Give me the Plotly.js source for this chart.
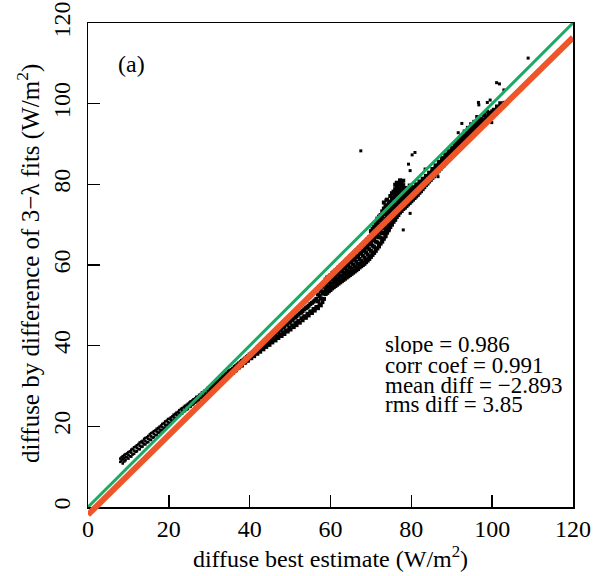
<!DOCTYPE html>
<html>
<head>
<meta charset="utf-8">
<script src="https://cdn.plot.ly/plotly-3.0.1.min.js"></script>
<style>html,body{margin:0;padding:0;background:#fff;}</style>
</head>
<body>
<div id="chart" style="width:599px;height:576px;"></div>
<script>
// ---- data ----
// rows: [x, y1, y2, ...]  (diffuse best estimate, diffuse by difference of 3-λ fits)
const lowBand = [
  [8.0, 11.2, 12.0], [8.3, 11.5, 12.3], [8.6, 10.8, 11.9, 12.6], [9.0, 11.3, 12.1, 12.9], [9.3, 11.6, 12.4, 13.1],
  [9.7, 12.3, 13.3], [10.0, 12.0, 12.9, 13.6], [10.4, 12.6, 13.8], [10.7, 12.5, 13.5, 14.2], [11.0, 13.0, 14.4],
  [11.4, 13.2, 14.0, 14.8], [11.8, 13.7, 15.0], [12.1, 13.8, 14.6, 15.3], [12.5, 14.4, 15.6], [12.8, 14.3, 15.2, 16.0],
  [13.2, 14.9, 16.2], [13.5, 15.0, 15.8, 16.4], [13.9, 15.6, 16.9], [14.2, 15.5, 16.3, 17.1], [14.6, 16.0, 17.3],
  [14.9, 16.1, 16.9, 17.6], [15.3, 16.7, 18.0], [15.6, 16.6, 17.5, 18.3], [16.0, 17.2, 18.5], [16.3, 17.3, 18.1, 18.8],
  [16.7, 17.8, 19.0], [17.0, 17.9, 18.7, 19.4], [17.4, 18.4, 19.6], [17.7, 18.5, 19.2, 19.9], [18.1, 19.0, 20.2],
  [18.4, 19.1, 19.8, 20.6], [18.8, 19.5, 20.8], [19.1, 19.7, 20.4, 21.2], [19.5, 20.2, 21.4], [19.8, 20.4, 21.0, 21.8],
  [20.2, 20.8, 21.9], [20.5, 20.9, 21.6, 22.2], [20.9, 21.3, 22.5], [21.2, 21.5, 22.2, 22.9], [21.6, 21.9, 23.1],
  [21.9, 22.1, 22.8, 23.4], [22.3, 22.5, 23.6], [22.6, 22.7, 23.3, 24.0], [23.0, 23.1, 24.3], [23.3, 23.2, 23.9, 24.5],
  [23.7, 23.7, 24.8], [24.0, 23.8, 24.4, 25.1], [24.4, 24.2, 25.3], [24.7, 24.3, 25.0, 25.6], [25.1, 24.8, 25.9],
  [25.4, 24.9, 25.5, 26.2], [25.8, 25.3, 26.4], [26.1, 25.5, 26.1, 26.7], [26.5, 25.9, 26.9], [26.8, 26.0, 26.6, 27.3],
  [27.2, 26.4, 27.4], [27.5, 26.6, 27.2, 27.8], [27.9, 27.0, 28.0], [28.2, 27.1, 27.7, 28.4], [28.6, 27.5, 28.5],
  [28.9, 27.7, 28.3, 28.9], [29.3, 28.0, 29.1], [29.6, 28.2, 28.8, 29.5]
];
const midBand = [
  [30.3, 28.9, 29.7], [30.7, 28.9, 29.9], [31.0, 29.4, 30.3], [31.4, 29.6, 30.5], [31.8, 30.1, 31.0],
  [32.1, 30.2, 31.2], [32.5, 30.7, 31.4], [32.9, 30.8, 31.8], [33.3, 31.3, 32.2], [33.6, 31.4, 32.4],
  [34.0, 32.0, 32.8], [34.4, 32.1, 33.1], [34.8, 32.6, 33.5], [35.1, 32.7, 33.7], [35.5, 33.2, 34.0],
  [35.9, 33.3, 34.3], [36.3, 33.8, 34.7], [36.6, 33.9, 34.9], [37.0, 34.5, 35.3], [37.4, 34.6, 35.6],
  [37.8, 35.1, 35.9], [38.1, 35.1, 36.2], [38.5, 35.7, 36.5], [38.9, 35.8, 36.8], [39.3, 36.3, 37.2],
  [39.6, 36.3, 37.4], [40.0, 36.9, 37.8], [40.4, 36.9, 38.0], [40.8, 37.5, 38.4], [41.1, 37.4, 38.6],
  [41.5, 38.1, 39.0], [41.9, 38.0, 39.2], [42.3, 38.7, 39.6], [42.6, 38.5, 39.8], [43.0, 39.3, 40.2],
  [43.4, 39.1, 40.4], [43.8, 39.9, 40.8], [44.1, 39.7, 41.0], [44.5, 40.4, 41.4], [44.9, 40.2, 41.6],
  [45.3, 41.1, 42.0], [45.6, 40.8, 42.2], [46.0, 41.6, 42.6], [46.4, 41.3, 42.9], [46.8, 42.2, 43.3],
  [47.1, 41.9, 43.5], [47.5, 42.8, 43.9], [47.9, 42.4, 44.2], [48.3, 43.3, 44.6], [48.6, 42.9, 44.8],
  [49.0, 43.8, 45.2], [49.4, 43.5, 45.4], [49.8, 44.4, 45.8], [50.1, 44.0, 46.0], [50.5, 45.0, 46.4],
  [50.9, 44.6, 46.7], [51.3, 45.6, 47.1], [51.6, 45.1, 47.3], [52.0, 46.1, 47.7], [52.4, 45.7, 48.0],
  [52.8, 46.8, 48.3], [53.1, 46.3, 48.6], [53.5, 47.3, 49.0], [53.9, 46.9, 49.3], [54.3, 47.9, 49.6],
  [54.6, 47.5, 49.9], [55.0, 48.5, 50.3], [55.4, 48.1, 50.6], [55.8, 49.1, 50.9], [56.1, 48.7, 51.2],
  [56.5, 49.6, 51.6], [56.9, 49.3, 51.0, 52.7], [57.3, 50.2, 52.3, 54.0], [57.6, 50.0, 51.7, 53.5],
  [58.0, 50.8, 52.9, 54.6], [58.4, 51.6, 53.4, 55.1]
];
const bulge = [
  [58.8, 52.8, 54.0, 55.3, 56.4], [59.2, 53.1, 53.6, 54.7, 55.8, 56.9], [59.6, 53.5, 54.6, 55.9, 57.1],
  [60.0, 53.8, 54.4, 55.4, 56.4, 57.5], [60.4, 54.2, 55.2, 56.5, 57.9], [60.8, 54.5, 55.0, 56.0, 57.0, 58.3],
  [61.2, 54.8, 55.9, 57.2, 58.6], [61.6, 55.1, 55.6, 56.7, 57.7, 59.0], [62.0, 55.4, 56.5, 57.9, 59.4],
  [62.4, 55.7, 56.2, 57.3, 58.4, 59.8], [62.8, 56.0, 57.1, 58.7, 60.1], [63.2, 56.3, 56.8, 58.0, 59.1, 60.5],
  [63.6, 56.6, 57.8, 59.4, 60.9], [64.0, 56.9, 57.5, 58.7, 59.8, 61.3], [64.4, 57.2, 58.4, 60.1, 61.6],
  [64.8, 57.5, 58.1, 59.4, 60.6, 62.1], [65.2, 57.8, 59.0, 60.9, 62.4], [65.6, 58.1, 58.7, 60.1, 61.3, 62.8],
  [66.0, 58.4, 59.7, 61.6, 63.2], [66.4, 58.7, 59.3, 60.8, 62.0, 63.6], [66.8, 59.0, 60.3, 62.3, 64.0],
  [67.2, 59.4, 60.0, 61.5, 62.8, 64.4], [67.6, 59.7, 61.0, 63.1, 64.8], [68.0, 60.0, 60.7, 62.3, 63.5, 65.2],
  [68.4, 60.3, 61.8, 63.9, 65.6], [68.8, 60.7, 61.4, 63.1, 64.3, 66.0], [69.2, 61.1, 62.6, 64.7, 66.4],
  [69.6, 61.5, 62.2, 63.9, 65.2, 66.9], [70.0, 62.0, 63.5, 65.6, 67.3, 68.4],
  [70.4, 62.5, 63.1, 64.8, 66.1, 67.8, 69.0], [70.8, 63.0, 64.5, 66.5, 68.2, 69.5],
  [71.2, 63.5, 64.1, 65.8, 67.0, 68.7, 70.1], [71.6, 64.1, 65.6, 67.4, 69.2, 70.6, 71.5],
  [72.0, 64.6, 65.2, 66.9, 68.0, 69.7, 71.1, 72.0], [72.4, 65.3, 66.8, 68.4, 70.1, 71.5, 72.4],
  [72.8, 65.8, 66.3, 67.9, 69.2, 70.6, 72.0, 73.3], [73.2, 66.5, 68.0, 69.5, 71.0, 72.6, 74.0, 75.5],
  [73.6, 67.1, 67.4, 68.8, 70.2, 71.5, 72.9, 74.6], [74.0, 68.0, 69.3, 70.6, 71.9, 73.4, 74.8, 76.2],
  [74.4, 68.6, 68.9, 70.0, 71.2, 72.4, 73.9, 75.3], [74.8, 69.4, 70.6, 71.8, 72.9, 74.3, 75.7, 77.1],
  [75.2, 70.0, 70.3, 71.3, 72.4, 73.5, 74.9, 76.4, 77.8], [75.6, 70.7, 71.8, 72.9, 73.9, 75.4, 76.8, 78.2],
  [76.0, 71.2, 71.5, 72.4, 73.5, 74.5, 76.0, 77.4, 78.8, 79.9], [76.4, 71.9, 72.9, 74.0, 75.0, 76.5, 78.0, 79.3, 80.4],
  [76.8, 72.4, 73.4, 74.5, 75.6, 77.1, 78.6, 79.9], [77.2, 73.0, 73.9, 75.0, 76.2, 77.7, 79.0, 80.3, 81.0],
  [77.6, 73.4, 74.3, 75.5, 76.7, 78.1, 79.4, 80.6], [78.0, 73.9, 74.8, 75.9, 77.1, 78.6, 79.8, 80.9],
  [78.4, 74.2, 75.2, 76.3, 77.5, 78.9], [78.8, 74.6, 75.6, 76.7, 77.8, 79.1], [79.2, 75.0, 76.0, 77.1, 78.2],
  [79.6, 75.4, 76.4, 77.5, 78.6, 79.7], [80.0, 75.8, 76.8, 77.9, 78.9]
];
const upperBand = [
  [80.4, 76.2, 77.2, 78.3, 79.3], [80.8, 76.6, 77.6, 78.7], [81.2, 77.0, 78.0, 79.1, 80.0], [81.6, 77.4, 78.4, 79.5],
  [82.0, 77.9, 78.8, 79.9, 80.7], [82.4, 78.3, 79.3, 80.3], [82.8, 78.8, 79.7, 80.6, 81.4], [83.2, 79.3, 80.2, 81.0],
  [83.6, 79.8, 80.6, 81.4, 82.1], [84.0, 80.2, 81.1, 81.8], [84.4, 80.7, 81.5, 82.2, 82.9], [84.8, 81.1, 82.0, 82.7],
  [85.2, 81.6, 82.4, 83.1, 83.8], [85.6, 82.0, 82.8, 83.6], [86.0, 82.5, 83.3, 84.0, 84.7], [86.4, 82.9, 83.7, 84.4],
  [86.8, 83.4, 84.2, 84.9, 85.6], [87.2, 83.8, 84.6, 85.4], [87.6, 84.3, 85.0, 85.8, 86.5], [88.0, 84.7, 85.5, 86.2],
  [88.4, 85.2, 85.9, 86.6, 87.4], [88.8, 85.6, 86.3, 87.1], [89.2, 86.0, 86.8, 87.5, 88.2], [89.6, 86.4, 87.2, 88.0],
  [90.0, 86.9, 87.6, 88.4, 89.1], [90.4, 87.3, 88.1, 88.8], [90.8, 87.8, 88.5, 89.3, 90.1], [91.2, 88.2, 89.0, 89.7],
  [91.6, 88.6, 89.4, 90.2, 91.0], [92.0, 89.0, 89.8, 90.6], [92.4, 89.4, 90.2, 91.1, 92.0], [92.8, 89.8, 90.7, 91.5],
  [93.2, 90.2, 91.1, 92.0, 93.1], [93.6, 90.6, 91.5, 92.4], [94.0, 91.0, 91.9, 92.9, 94.0], [94.4, 91.5, 92.3, 93.3],
  [94.8, 91.9, 92.7, 93.8, 94.9], [95.2, 92.2, 93.2, 94.2], [95.6, 92.6, 93.6, 94.7, 95.5], [96.0, 93.1, 94.0, 95.0],
  [96.4, 93.5, 94.4, 95.4, 96.6], [96.8, 93.9, 94.8, 95.8], [97.2, 94.4, 95.3, 96.3], [97.6, 94.8, 95.7],
  [98.0, 95.2, 96.1, 97.2], [98.4, 95.6, 96.5], [98.8, 96.0, 96.9, 98.0], [99.2, 96.4, 97.3], [99.6, 96.8, 97.7],
  [100.0, 97.2, 98.1], [100.4, 97.6, 98.5], [100.8, 98.0], [101.2, 98.4, 99.3], [101.6, 98.8], [102.0, 99.2, 100.1],
  [102.5, 99.7], [103.0, 100.2]
];
const outliersX = [67.5, 80.9, 79.3, 79.7, 83.4, 96.6, 96.7, 98.8, 99.5, 96.2, 95.6, 98.6, 99.9, 101.1, 101.8, 102.9, 108.9, 92.5, 91.6, 78.0, 79.7, 73.7, 86.6, 80.2];
const outliersY = [88.3, 87.9, 85.0, 83.4, 83.8, 100.3, 99.7, 100.3, 100.9, 96.8, 95.5, 96.4, 95.3, 105.2, 104.9, 103.4, 111.3, 95.1, 92.8, 68.7, 72.8, 76.1, 81.9, 87.3];

const oneToOneX = [0, 120];
const oneToOneY = [0, 120];
const fitSlope = 0.986;
const fitIntercept = -1.9;
const fitX = [0, 120];

const tickVals = [0, 20, 40, 60, 80, 100, 120];
const statLines = ["slope = 0.986", "corr coef = 0.991", "mean diff = \u22122.893", "rms diff = 3.85"];
const statYs = [40.2, 35.2, 30.2, 25.3];

// ---- build ----
function expand(groups) {
  const xs = [], ys = [];
  groups.forEach(group => group.forEach(row => {
    for (let i = 1; i < row.length; i++) { xs.push(row[0]); ys.push(row[i]); }
  }));
  return [xs, ys];
}
const [lowX, lowY] = expand([lowBand]);
const [hiX, hiY] = expand([midBand, bulge, upperBand]);

const fitY = fitX.map(x => fitIntercept + fitSlope * x);

const FONT = "Liberation Serif";
const H = 576, W = 599;
const mL = 70, mR = 26, mT = 23, mB = 59;
const boxLeft = 88;                       // px of the plot box left edge
const plotW = W - mL - mR;               // 503 (paper width)
const xDom = [(boxLeft - mL) / plotW, 1];
const plotH = H - mT - mB;               // 494
const extra = 10;                         // px below the main axis for the unclipped fit line
const d = extra / plotH;
const unitPx = (plotH - extra) / 120;
const y2min = -extra / unitPx;
const labelAxisPx = 75;                   // px where the tick-label-only axis sits

const traces = [
  { x: lowX, y: lowY, type: 'scatter', mode: 'markers', xaxis: 'x', yaxis: 'y',
    marker: { symbol: 'square', size: 2.6, color: '#000', line: { width: 0 } }, hoverinfo: 'skip' },
  { x: hiX, y: hiY, type: 'scatter', mode: 'markers', xaxis: 'x', yaxis: 'y',
    marker: { symbol: 'square', size: 4, color: '#000', line: { width: 0 } }, hoverinfo: 'skip' },
  { x: outliersX, y: outliersY, type: 'scatter', mode: 'markers', xaxis: 'x', yaxis: 'y',
    marker: { symbol: 'square', size: 3, color: '#000', line: { width: 0 } }, hoverinfo: 'skip' },
  { x: oneToOneX, y: oneToOneY, type: 'scatter', mode: 'lines', xaxis: 'x', yaxis: 'y',
    line: { color: '#1BAA63', width: 3 }, hoverinfo: 'skip' },
  { x: fitX, y: fitY, type: 'scatter', mode: 'lines', xaxis: 'x2', yaxis: 'y2',
    line: { color: '#EE5528', width: 6 }, hoverinfo: 'skip' },
  // invisible trace to activate the tick-label axis
  { x: [null], y: [null], type: 'scatter', mode: 'markers', xaxis: 'x', yaxis: 'y3', hoverinfo: 'skip', showlegend: false }
];

const axisCommon = {
  range: [0, 120], tickvals: tickVals, ticks: 'inside', ticklen: 12, tickwidth: 1.5,
  tickcolor: '#000', showline: true, linecolor: '#000', linewidth: 1.5, mirror: true,
  showgrid: false, zeroline: false, tickfont: { family: FONT, size: 24, color: '#000' }
};

const annotations = [
  { x: 6.9, y: 109.8, xref: 'x', yref: 'y', text: '(a)', showarrow: false, xanchor: 'left', yanchor: 'middle',
    font: { family: FONT, size: 24, color: '#000' } },
  { x: (28 - mL) / plotW, y: (mT + plotH - 264) / plotH, xref: 'paper', yref: 'paper',
    text: 'diffuse by difference of 3\u2212\u03bb fits (W/m<sup>2</sup>)', textangle: -90, showarrow: false,
    xanchor: 'center', yanchor: 'middle', font: { family: FONT, size: 25, color: '#000' } }
].concat(statLines.map((t, i) => ({
  x: 73.0, y: statYs[i], xref: 'x', yref: 'y', text: t, showarrow: false, xanchor: 'left', yanchor: 'middle',
  height: 19, font: { family: FONT, size: 23, color: '#000' }
})));

const layout = {
  width: W, height: H, showlegend: false,
  paper_bgcolor: '#fff', plot_bgcolor: 'rgba(0,0,0,0)',
  font: { family: FONT, color: '#000' },
  margin: { l: mL, r: mR, t: mT, b: mB, pad: 0 },
  xaxis: Object.assign({}, axisCommon, { domain: xDom, anchor: 'y',
    title: { text: 'diffuse best estimate (W/m<sup>2</sup>)', font: { family: FONT, size: 24, color: '#000' }, standoff: 2 } }),
  yaxis: Object.assign({}, axisCommon, { domain: [d, 1], anchor: 'x', showticklabels: false }),
  yaxis3: { overlaying: 'y', anchor: 'free', position: (labelAxisPx - mL) / plotW, side: 'left',
    range: [0, 120], tickvals: tickVals, tickangle: -90, ticks: '', showline: false, showgrid: false,
    zeroline: false, tickfont: { family: FONT, size: 24, color: '#000' } },
  xaxis2: { domain: xDom, range: [0, 120], anchor: 'y2', visible: false, fixedrange: true },
  yaxis2: { domain: [0, 1], range: [y2min, 120], anchor: 'x2', visible: false, fixedrange: true },
  annotations: annotations
};

Plotly.newPlot('chart', traces, layout, { staticPlot: true, displayModeBar: false });
</script>
</body>
</html>
